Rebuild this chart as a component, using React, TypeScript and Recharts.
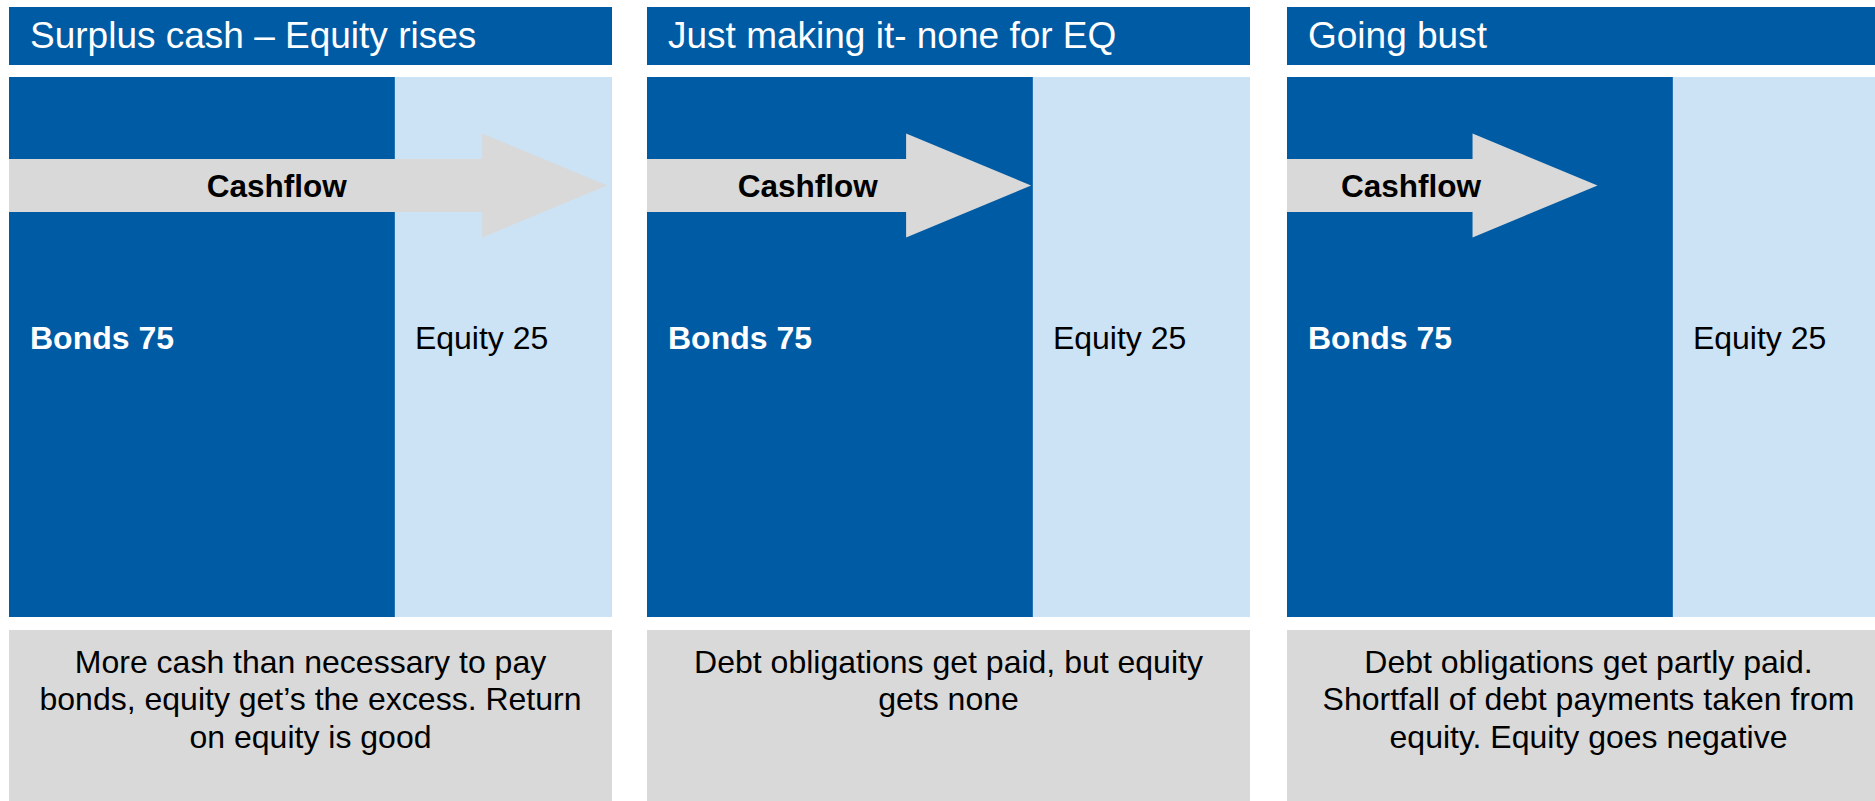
import { BarChart, Bar, XAxis, YAxis, ReferenceArea, LabelList } from "recharts";

const titles = ["Surplus cash – Equity rises", "Just making it- none for EQ", "Going bust"];
const bondsValue = [75, 75, 75];
const equityValue = [25, 25, 25];
// how much of the drawn bar each part takes (in %)
const bondsShare = [64, 64, 64];
const equityShare = [36, 36, 36];
// how far the cashflow arrow reaches, % of the bar
const cashflow = [99.2, 63.7, 51.5];
const notes = [
  ["More cash than necessary to pay", "bonds, equity get’s the excess. Return", "on equity is good"],
  ["Debt obligations get paid, but equity", "gets none"],
  ["Debt obligations get partly paid.", "Shortfall of debt payments taken from", "equity. Equity goes negative"],
];

const DARK = "#005BA5";
const LIGHT = "#CCE3F5";
const GREY = "#D9D9D9";
const FONT = "'Liberation Sans', Arial, Helvetica, sans-serif";
const PANEL_W = 603;
const CHART_H = 540;
const PANEL_X = [9, 647, 1287];

const Arrow = (props: any) => {
  const { x, y, width } = props;
  const head = 125;
  const cy = y + 108.5;
  const sh = 26.5;
  const hh = 52;
  const tip = x + width;
  const hx = tip - head;
  const d = `M${x},${cy - sh} L${hx},${cy - sh} L${hx},${cy - hh} L${tip},${cy} L${hx},${cy + hh} L${hx},${cy + sh} L${x},${cy + sh} Z`;
  return (
    <g>
      <path d={d} fill={GREY} />
      <text x={(x + tip - head / 2) / 2} y={cy + 11} textAnchor="middle" fontFamily={FONT} fontSize={31.5} fontWeight="bold" fill="#000">
        Cashflow
      </text>
    </g>
  );
};

const barLabel = (color: string, bold: boolean, dx: number) => (p: any) => {
  const x = Number(p.x);
  const y = Number(p.y);
  const h = Number(p.height);
  return (
    <text x={x + dx} y={y + h / 2 + 2} fontFamily={FONT} fontSize={32} fontWeight={bold ? "bold" : "normal"} fill={color}>
      {p.value}
    </text>
  );
};

const Panel = ({ i }: { i: number }) => {
  const data = [
    {
      name: "capital",
      bonds: bondsShare[i],
      equity: equityShare[i],
      bondsLabel: `Bonds ${bondsValue[i]}`,
      equityLabel: `Equity ${equityValue[i]}`,
    },
  ];
  return (
    <div style={{ position: "absolute", left: PANEL_X[i], top: 0, width: PANEL_W, height: 801 }}>
      <svg width={PANEL_W} height={58} style={{ position: "absolute", left: 0, top: 7, display: "block" }}>
        <rect x={0} y={0} width={PANEL_W} height={58} fill={DARK} />
        <text x={21} y={40.5} fontFamily={FONT} fontSize={37} fill="#fff">
          {titles[i]}
        </text>
      </svg>
      <div style={{ position: "absolute", left: 0, top: 77 }}>
        <BarChart
          width={PANEL_W}
          height={CHART_H}
          data={data}
          layout="vertical"
          margin={{ top: 0, right: 0, bottom: 0, left: 0 }}
          barCategoryGap={0}
        >
          <XAxis type="number" domain={[0, 100]} hide />
          <YAxis type="category" dataKey="name" hide />
          <Bar dataKey="bonds" stackId="cap" fill={DARK} isAnimationActive={false}>
            <LabelList dataKey="bondsLabel" content={barLabel("#fff", true, 21)} />
          </Bar>
          <Bar dataKey="equity" stackId="cap" fill={LIGHT} isAnimationActive={false}>
            <LabelList dataKey="equityLabel" content={barLabel("#000", false, 20)} />
          </Bar>
          <ReferenceArea x1={0} x2={cashflow[i]} shape={Arrow} ifOverflow="visible" zIndex={2500} />
        </BarChart>
      </div>
      <svg width={PANEL_W} height={171} style={{ position: "absolute", left: 0, top: 630, display: "block" }}>
        <rect x={0} y={0} width={PANEL_W} height={171} fill={GREY} />
        {notes[i].map((line, k) => (
          <text key={k} x={PANEL_W / 2} y={42.5 + k * 37.5} textAnchor="middle" fontFamily={FONT} fontSize={32} fill="#000">
            {line}
          </text>
        ))}
      </svg>
    </div>
  );
};

export default function App() {
  return (
    <div style={{ position: "absolute", left: 0, top: 0, width: 1875, height: 801, overflow: "hidden", background: "#fff" }}>
      {titles.map((_, i) => (
        <Panel key={i} i={i} />
      ))}
    </div>
  );
}
